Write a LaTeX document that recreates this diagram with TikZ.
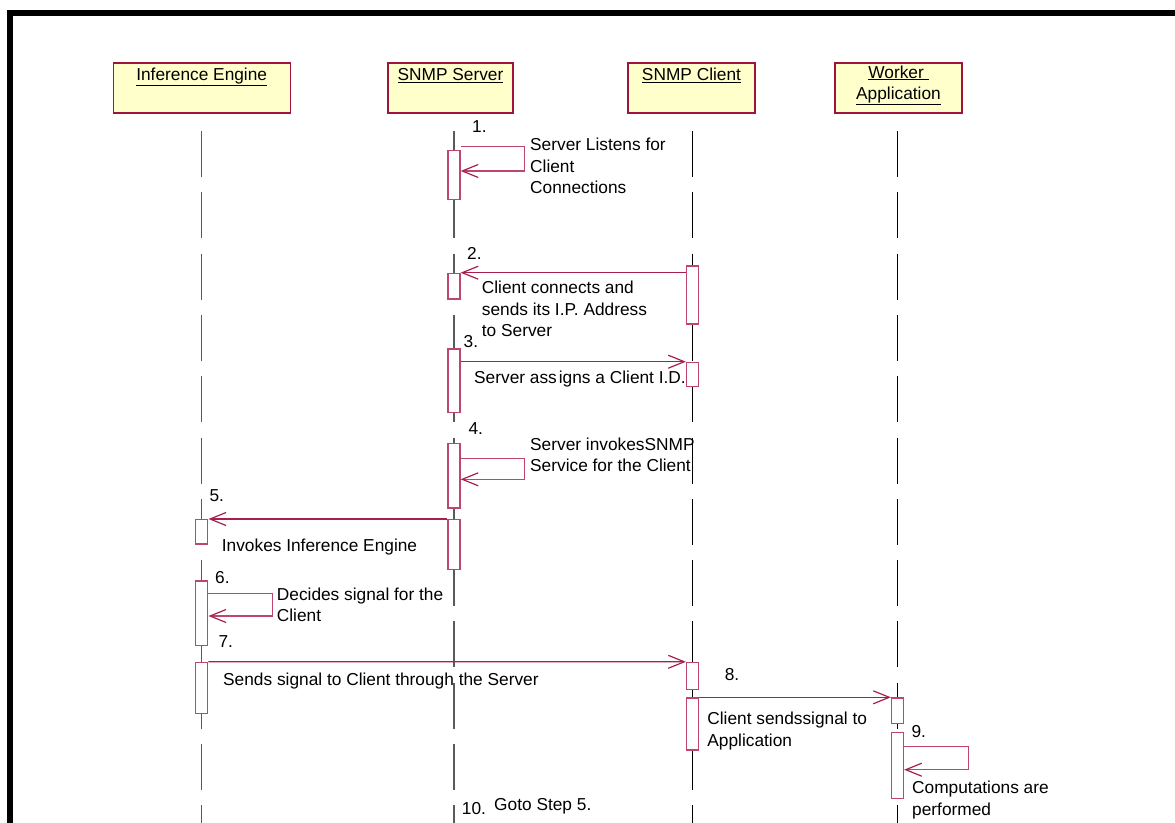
\documentclass[tikz,border=0pt]{standalone}
\usepackage{fontspec}
\setmainfont{Liberation Sans}
\usetikzlibrary{arrows.meta}
\definecolor{hdrfill}{RGB}{255,255,204}
\definecolor{hdrline}{RGB}{160,20,60}
\definecolor{actline}{RGB}{190,70,110}
\definecolor{msgline}{RGB}{168,30,80}
\definecolor{lifegray}{RGB}{90,90,90}
\newcommand{\lbfont}{\fontsize{17.3}{21.5}\selectfont}
\tikzset{
  hdr/.style={draw=hdrline, fill=hdrfill, line width=1.3pt, minimum height=50pt, inner sep=0pt},
  hdrtext/.style={anchor=north, inner sep=0pt, align=center, font=\lbfont, execute at begin node=\strut},
  act/.style={draw=actline, fill=white, line width=1.3pt, minimum width=12pt, inner sep=0pt},
  lifeline/.style={line width=1.1pt, dash pattern=on 46pt off 15.3pt},
  msg/.style={draw=msgline, line width=1.2pt, -{Straight Barb[length=16pt, width=13pt, line width=1.2pt]}},
  loopmsg/.style={draw=actline, line width=1.2pt, -{Straight Barb[length=16pt, width=13pt, line width=1.2pt, color=msgline]}},
  lbl/.style={anchor=north west, inner sep=0pt, align=left, font=\lbfont, execute at begin node=\strut},
}
\begin{document}
\begin{tikzpicture}[x=1pt, y=-1pt]
\useasboundingbox (0,0) rectangle (1175,822);
\clip (0,0) rectangle (1175,822);
% frame
\draw[line width=6pt] (10,13.3) rectangle (1200,900);

% header boxes
\node[hdr, minimum width=177pt] (ie) at (201.7,88) {};
\node[hdr, minimum width=125pt] (sv) at (450.5,88) {};
\node[hdr, minimum width=127pt] (cl) at (691.5,88) {};
\node[hdr, minimum width=127pt] (wk) at (898.5,88) {};
\node[hdrtext] (ie-t) at ([yshift=-3pt]ie.north) {\underline{Inference Engine}};
\node[hdrtext] (sv-t) at ([yshift=-3pt]sv.north) {\underline{SNMP Server}};
\node[hdrtext] (cl-t) at ([yshift=-3pt]cl.north) {\underline{SNMP Client}};
\node[hdrtext] (wk-t) at ([yshift=-3pt]wk.north) {\underline{Worker\ }\\\underline{Application}};

% lifelines
\coordinate (ie-a) at (201.8,131); \coordinate (ie-b) at (201.8,840);
\coordinate (sv-a) at (454,131);   \coordinate (sv-b) at (454,840);
\coordinate (cl-a) at (692.5,131); \coordinate (cl-b) at (692.5,840);
\coordinate (wk-a) at (897.5,131); \coordinate (wk-b) at (897.5,840);
\draw[lifeline, draw=lifegray] (ie-a) -- (ie-b);
\draw[lifeline, draw=lifegray] (sv-a) -- (sv-b);
\draw[lifeline, draw=black] (cl-a) -- (cl-b);
\draw[lifeline, draw=black] (wk-a) -- (wk-b);

% activation boxes (server)
\node[act, minimum height=49pt, anchor=north] (s1) at (454,150) {};
\node[act, minimum height=25.6pt, anchor=north] (s2) at (454,272.7) {};
\node[act, minimum height=63.4pt, anchor=north] (s3) at (454,348.3) {};
\node[act, minimum height=64.6pt, anchor=north] (s4) at (454,442.7) {};
\node[act, minimum height=50pt, anchor=north] (s5) at (454,519) {};
% client
\node[act, minimum height=58pt, anchor=north] (c2) at (692.5,265.3) {};
\node[act, minimum height=24.3pt, anchor=north] (c3) at (692.5,361.7) {};
\node[act, minimum height=27pt, anchor=north] (c7) at (692.5,661.8) {};
\node[act, minimum height=51.9pt, anchor=north] (c8) at (692.5,697.3) {};
% inference engine
\node[act, minimum height=24.3pt, anchor=north] (i5) at (201.8,519) {};
\node[act, minimum height=64.7pt, anchor=north] (i6) at (201.8,580.3) {};
\node[act, minimum height=51pt, anchor=north] (i7) at (201.8,661.7) {};
% worker
\node[act, minimum height=25.7pt, anchor=north] (w8) at (897.5,697.3) {};
\node[act, minimum height=66.5pt, anchor=north] (w9) at (897.5,731.5) {};

% messages
\draw[loopmsg] ([yshift=3.3pt]s1.north east) -- ++(63.5,0) -- ++(0,24.3) -- ([yshift=-21pt]s1.north east);
\draw[msg] (c2.west |- s2.north) -- (s2.north east);
\draw[msg] (s3.east |- c3.north) -- (c3.north west);
\draw[loopmsg] ([yshift=-15.6pt]s4.north east) -- ++(64,0) -- ++(0,21) -- ([yshift=-36.6pt]s4.north east);
\draw[msg] (s5.north west) -- (i5.north east);
\draw[loopmsg] ([yshift=-13pt]i6.north east) -- ++(64.4,0) -- ++(0,22.7) -- ([yshift=-35.7pt]i6.north east);
\draw[msg] (i7.north east) -- (c7.north west);
\draw[msg] (c8.north east) -- (w8.north west);
\draw[loopmsg] ([yshift=-15.3pt]w9.north east) -- ++(64.5,0) -- ++(0,22.9) -- ([yshift=-38.2pt]w9.north east);

% labels
\node[lbl] (n1) at (472,117) {1.};
\node[lbl] (t1) at (530,138) {Server Listens for\\Client\\Connections};
\node[lbl] (n2) at (467,244) {2.};
\node[lbl] (t2) at (481.7,281) {Client connects and\\sends its I.P. Address\\to Server};
\node[lbl] (n3) at (463.5,332.7) {3.};
\node[lbl] (t3) at (474,368.7) {Server ass\kern2pt igns a Client I.D.};
\node[lbl] (n4) at (468.3,419.3) {4.};
\node[lbl] (t4) at (530,437.7) {Server invokesSNMP\\Service for the Client};
\node[lbl] (n5) at (209.3,486) {5.};
\node[lbl] (t5) at (221.7,536) {Invokes Inference Engine};
\node[lbl] (n6) at (215,568) {6.};
\node[lbl] (t6) at (276.7,587.7) {Decides signal for the\\Client};
\node[lbl] (n7) at (218.3,632.7) {7.};
\node[lbl] (t7) at (223,670) {Sends signal to Client through the Server};
\node[lbl] (n8) at (724.6,665) {8.};
\node[lbl] (t8) at (707.2,712.2) {Client sendssignal to\\Application};
\node[lbl] (n9) at (911.3,722.5) {9.};
\node[lbl] (t9) at (912,781.2) {Computations are\\performed};
\node[lbl] (n10) at (461.7,799) {10.};
\node[lbl] (t10) at (494,795.3) {Goto Step 5.};
\end{tikzpicture}
\end{document}
